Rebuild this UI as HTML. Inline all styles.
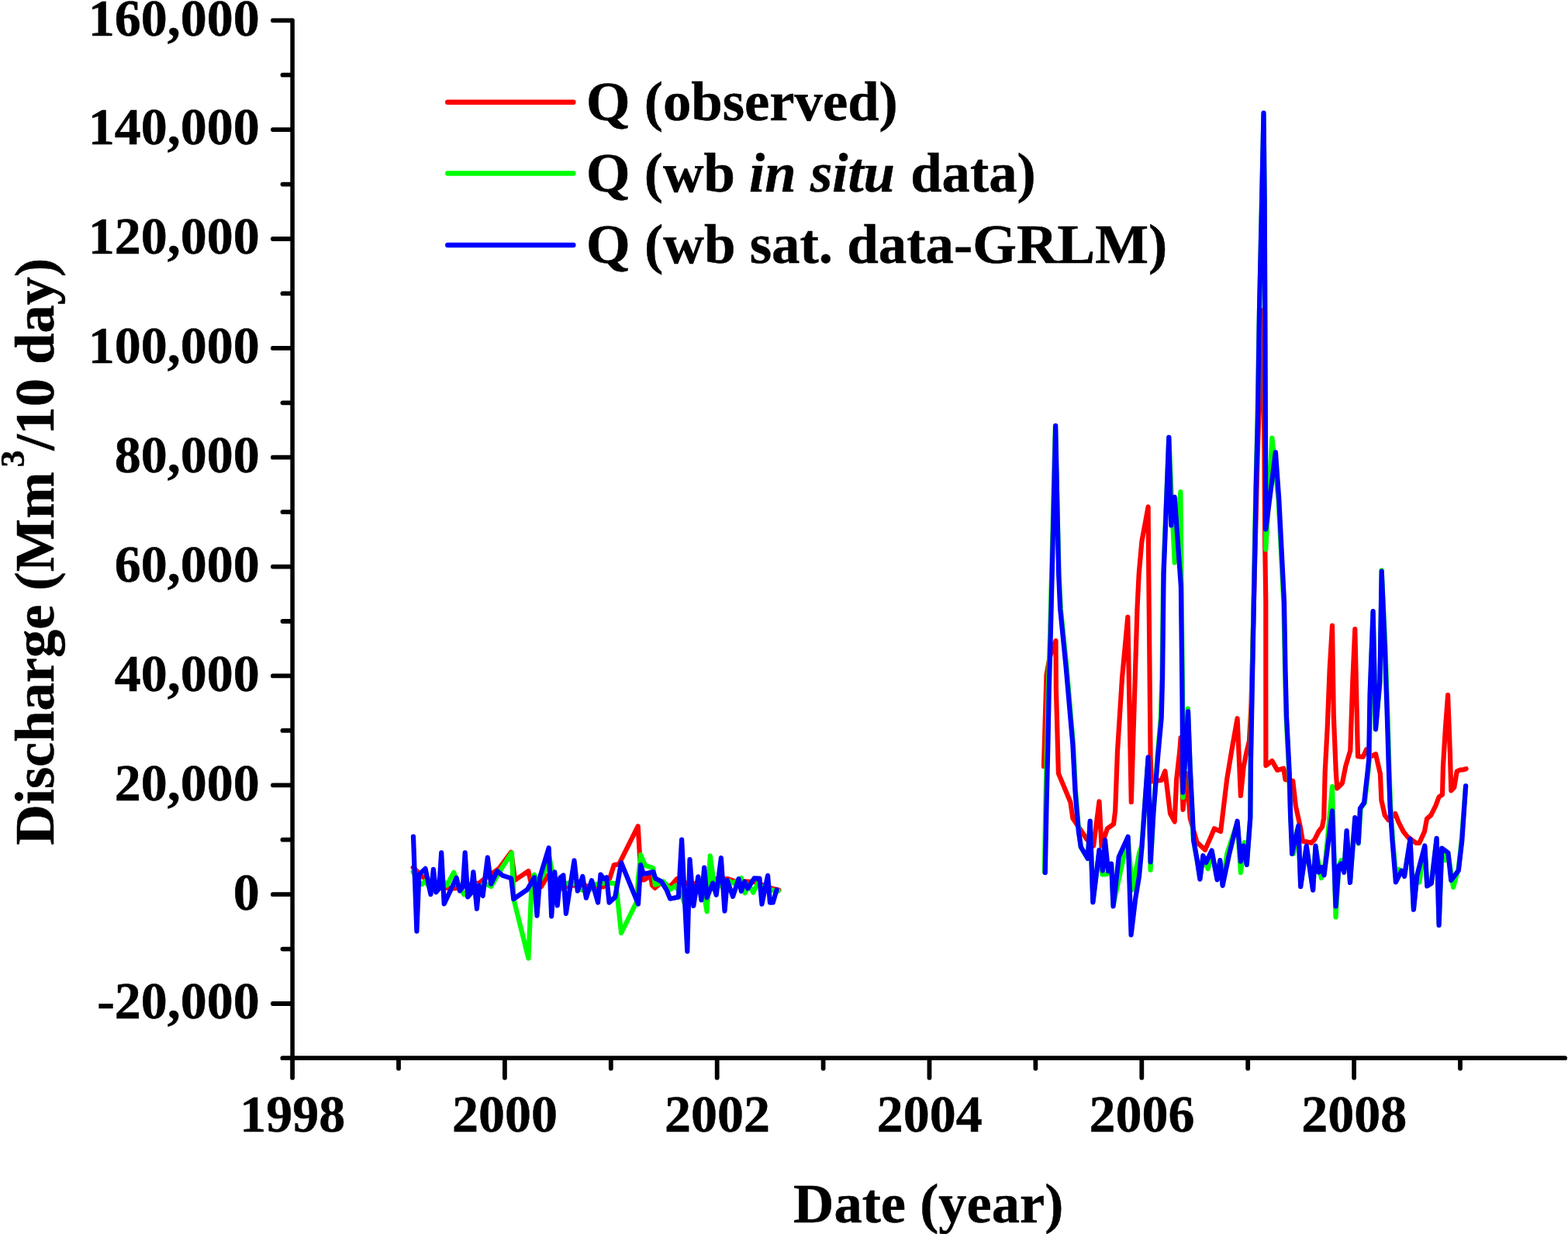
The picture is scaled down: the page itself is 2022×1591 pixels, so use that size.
<!DOCTYPE html>
<html lang="en"><head><meta charset="utf-8"><title>Discharge chart</title>
<style>html,body{margin:0;padding:0;background:#fff;}body{width:2022px;height:1591px;overflow:hidden;}svg{display:block;}</style>
</head><body>
<svg width="2022" height="1591" viewBox="0 0 2022 1591">
<rect x="0" y="0" width="2022" height="1591" fill="#ffffff"/>
<polyline points="532.7,1118.5 544.3,1129.6 555.4,1138.6 576.2,1144.9 587.2,1145.5 596.9,1141.4 608.0,1140.0 617.7,1138.6 624.6,1133.1 638.5,1123.4 644.0,1119.2 659.2,1098.7 664.1,1134.7 681.4,1123.0 684.2,1135.9 698.0,1143.1 706.3,1128.9 716.0,1135.9 724.3,1145.5 735.4,1141.4 749.3,1142.1 763.0,1142.5 778.0,1143.5 786.3,1132.4 791.8,1115.1 798.1,1114.4 822.7,1065.2 825.1,1105.4 827.9,1134.5 830.6,1134.5 838.9,1128.9 841.0,1141.4 844.5,1144.9 851.4,1138.6 864.5,1142.8 872.9,1133.1 884.6,1138.6 895.7,1139.3 922.0,1133.1 938.6,1133.1 946.9,1135.9 973.3,1137.2 995.4,1145.5 1004.4,1147.6" fill="none" stroke="#ff0000" stroke-width="6.2" stroke-linejoin="round" stroke-linecap="round"/>
<polyline points="1346.0,988.2 1349.5,870.0 1353.5,848.0 1357.5,836.0 1361.5,826.1 1361.9,888.4 1364.9,997.1 1380.4,1034.2 1383.4,1055.0 1395.3,1072.8 1401.2,1081.7 1410.1,1090.6 1417.5,1033.4 1420.5,1090.6 1427.9,1068.3 1436.1,1062.4 1438.2,1045.0 1441.0,968.7 1447.0,874.3 1454.3,795.6 1458.8,1034.2 1466.5,784.5 1468.7,740.0 1472.4,698.0 1480.6,653.5 1481.3,740.0 1483.6,976.1 1485.0,1007.5 1497.7,1006.0 1502.4,994.1 1509.1,1049.0 1514.7,1059.4 1517.2,1004.5 1521.4,967.4 1522.6,951.1 1525.5,1043.8 1530.3,997.1 1534.7,1055.0 1543.6,1086.1 1554.0,1095.8 1561.5,1078.7 1565.9,1068.3 1574.1,1072.0 1582.2,1004.5 1589.6,960.0 1595.6,926.2 1599.9,1026.0 1603.7,988.5 1607.6,969.0 1611.0,955.0 1613.5,910.0 1617.0,770.0 1621.6,590.0 1628.0,400.0 1629.3,480.0 1630.2,560.0 1631.2,700.0 1632.3,776.0 1632.3,863.9 1632.4,987.0 1640.4,981.1 1647.1,992.9 1655.3,990.7 1657.5,1005.2 1667.2,1006.7 1670.9,1039.3 1676.8,1066.1 1679.8,1084.6 1685.0,1085.3 1690.9,1086.8 1695.3,1082.4 1700.5,1072.0 1705.0,1066.1 1707.2,1054.2 1708.7,994.8 1711.7,938.0 1714.6,863.9 1718.0,806.7 1719.8,923.2 1722.8,996.1 1724.3,1016.4 1730.9,1009.7 1735.4,987.4 1741.3,967.7 1744.3,878.7 1747.3,811.2 1751.0,975.1 1757.7,975.9 1762.1,966.2 1768.0,975.1 1774.0,972.2 1779.9,997.8 1781.4,1031.9 1785.8,1051.2 1790.3,1057.2 1799.2,1049.0 1803.6,1060.1 1809.6,1072.0 1815.5,1079.4 1825.9,1086.8 1830.4,1086.8 1837.0,1072.0 1840.0,1055.7 1845.2,1051.2 1851.1,1039.3 1855.6,1027.5 1860.0,1024.5 1860.9,988.7 1863.9,939.2 1867.1,896.2 1869.8,968.9 1871.3,1019.4 1875.2,1015.4 1878.7,994.6 1882.7,992.7 1886.6,992.5 1890.6,991.2" fill="none" stroke="#ff0000" stroke-width="6.2" stroke-linejoin="round" stroke-linecap="round"/>
<polyline points="532.7,1124.1 540.2,1138.6 544.3,1140.0 548.5,1135.9 555.4,1146.9 562.3,1146.9 569.2,1133.1 576.2,1141.4 585.2,1124.8 590.0,1138.6 598.3,1153.2 605.2,1146.9 610.8,1138.6 619.1,1145.5 624.6,1138.6 633.2,1143.1 645.4,1122.0 659.9,1099.4 662.6,1160.1 681.4,1235.6 685.6,1138.6 689.0,1127.8 693.9,1138.6 700.8,1127.5 708.4,1105.4 713.9,1133.1 724.3,1140.0 732.6,1138.6 740.9,1138.6 749.3,1146.9 756.2,1149.7 763.0,1145.5 768.3,1140.0 778.0,1138.6 789.1,1138.6 794.3,1139.3 801.1,1203.0 820.9,1162.9 823.0,1133.1 826.2,1102.2 832.0,1115.8 842.4,1119.2 844.7,1140.7 850.0,1139.3 855.5,1136.5 864.5,1146.9 870.8,1142.1 878.4,1152.5 886.3,1174.6 890.2,1146.9 898.5,1146.9 906.8,1146.9 911.6,1175.3 915.8,1103.3 920.6,1138.6 926.2,1138.6 934.5,1146.9 940.0,1135.9 945.6,1138.6 955.9,1132.0 960.7,1151.4 965.5,1140.7 971.3,1150.7 977.4,1138.6 987.1,1146.9 995.4,1147.6 1003.7,1148.6" fill="none" stroke="#00ff00" stroke-width="6.2" stroke-linejoin="round" stroke-linecap="round"/>
<polyline points="1346.9,1123.9 1348.4,1034.2 1350.2,960.0 1351.8,888.4 1354.2,814.2 1356.1,740.0 1360.9,549.7 1365.6,740.0 1367.8,784.5 1375.3,858.7 1384.0,960.0 1387.0,1019.3 1391.1,1071.3 1393.8,1092.0 1402.7,1106.9 1405.7,1060.9 1409.4,1161.8 1417.5,1098.0 1421.4,1127.4 1427.3,1127.1 1429.7,1123.2 1433.1,1113.6 1435.6,1167.0 1445.0,1123.2 1454.6,1080.5 1460.1,1147.5 1469.0,1100.0 1472.4,1090.6 1480.6,979.3 1483.6,1121.7 1487.3,1049.0 1492.6,974.8 1496.9,925.5 1498.5,873.5 1500.2,740.0 1507.3,564.5 1514.7,725.5 1522.4,634.2 1523.5,756.1 1525.0,888.4 1525.5,1028.2 1531.8,913.6 1534.7,989.7 1537.4,1049.0 1538.9,1083.1 1543.6,1108.4 1547.4,1132.1 1551.4,1104.7 1557.7,1120.2 1562.6,1098.0 1569.6,1132.8 1573.3,1109.9 1576.6,1140.3 1582.2,1100.9 1595.6,1060.1 1599.9,1125.1 1604.8,1086.1 1607.8,1113.5 1612.3,1054.2 1612.7,980.0 1614.9,863.9 1616.9,760.0 1619.4,629.0 1621.6,540.0 1624.0,400.0 1627.1,260.0 1629.5,147.0 1630.7,260.0 1631.9,557.0 1632.3,708.4 1640.4,564.5 1648.6,643.9 1651.6,703.2 1655.3,776.1 1657.1,863.9 1658.5,923.2 1662.3,996.1 1664.2,1054.2 1667.9,1100.9 1674.3,1066.1 1677.2,1141.7 1684.7,1092.0 1693.1,1146.2 1696.5,1092.0 1703.9,1132.1 1708.7,1113.5 1711.7,1083.9 1718.0,1014.1 1722.5,1182.5 1726.5,1116.5 1729.5,1109.1 1733.2,1123.2 1736.6,1072.7 1741.0,1136.5 1747.3,1055.7 1751.7,1087.6 1754.7,1042.3 1759.9,1034.9 1764.3,994.8 1765.7,980.0 1767.0,893.5 1770.6,789.7 1774.0,938.8 1779.6,879.0 1781.7,735.3 1786.4,834.2 1789.4,923.2 1791.6,996.1 1793.1,1039.3 1796.1,1083.9 1800.7,1135.8 1803.6,1120.9 1811.1,1128.4 1818.5,1083.9 1822.9,1171.4 1827.1,1128.4 1830.4,1137.6 1834.1,1110.6 1837.3,1092.0 1840.3,1141.0 1845.9,1137.3 1852.6,1082.4 1855.6,1190.7 1859.3,1095.0 1863.7,1109.1 1867.4,1100.9 1874.1,1143.9 1880.8,1119.5 1884.7,1083.9 1890.1,1013.6" fill="none" stroke="#00ff00" stroke-width="6.2" stroke-linejoin="round" stroke-linecap="round"/>
<polyline points="533.0,1078.7 537.4,1200.7 540.4,1127.5 548.5,1119.9 555.4,1153.2 558.9,1120.9 562.3,1150.4 566.2,1145.5 569.2,1099.4 572.7,1165.4 588.6,1131.7 592.8,1148.6 596.9,1143.5 599.7,1099.4 603.2,1156.4 607.3,1151.8 610.4,1124.4 614.9,1171.6 617.7,1141.7 622.6,1155.0 628.8,1105.7 633.2,1139.7 641.2,1123.0 648.2,1128.9 659.2,1132.4 662.3,1159.1 680.0,1146.9 689.0,1131.3 692.5,1180.6 696.4,1130.3 707.7,1093.2 711.2,1181.3 715.3,1124.4 718.8,1167.4 722.3,1131.7 726.4,1128.5 729.9,1177.8 740.5,1109.5 744.8,1148.7 751.3,1129.9 755.9,1157.7 763.0,1135.2 771.1,1163.6 774.5,1127.5 778.7,1133.1 782.2,1131.3 785.6,1163.6 793.2,1156.6 801.1,1112.3 823.0,1165.6 826.2,1115.1 829.9,1126.9 842.4,1124.1 845.2,1132.4 852.8,1136.5 859.7,1147.6 864.1,1158.7 874.9,1156.6 879.1,1082.5 886.3,1226.6 889.5,1108.2 894.3,1168.0 900.3,1130.3 904.4,1160.5 908.2,1118.5 911.6,1157.3 919.2,1138.6 923.7,1153.9 929.9,1106.1 934.5,1174.6 937.9,1135.2 945.1,1155.9 952.5,1133.1 955.9,1149.0 960.1,1136.8 964.3,1145.5 972.6,1132.4 979.5,1132.7 982.5,1165.6 990.1,1128.9 992.9,1163.6 996.8,1163.6 1001.6,1147.2" fill="none" stroke="#0000ff" stroke-width="6.2" stroke-linejoin="round" stroke-linecap="round"/>
<polyline points="1347.8,1125.1 1349.6,1034.2 1351.4,960.0 1352.8,888.4 1354.9,814.2 1356.7,740.0 1361.2,548.9 1365.2,740.0 1367.1,784.5 1374.5,858.7 1383.4,960.0 1386.4,1019.3 1390.8,1071.3 1393.8,1092.0 1402.7,1106.9 1405.7,1058.7 1409.4,1163.3 1417.5,1095.8 1422.0,1122.5 1425.0,1083.1 1429.1,1123.2 1433.1,1113.6 1435.6,1168.5 1442.8,1104.7 1454.6,1078.7 1458.6,1205.3 1464.1,1159.3 1469.0,1129.7 1472.4,1093.5 1480.6,976.3 1483.6,1111.3 1487.3,1049.0 1493.2,974.8 1497.7,925.5 1499.1,873.5 1500.6,740.0 1507.3,563.8 1510.3,677.3 1514.7,640.9 1522.9,756.1 1524.4,888.4 1525.5,1021.6 1532.1,917.3 1534.7,989.7 1537.7,1049.0 1539.2,1083.1 1543.6,1108.4 1547.4,1133.6 1551.4,1103.2 1555.2,1112.1 1562.6,1096.5 1569.6,1134.3 1573.3,1109.1 1576.6,1141.8 1585.2,1100.9 1595.6,1058.7 1599.9,1110.6 1603.6,1090.5 1607.8,1115.0 1612.3,1054.2 1613.0,980.0 1615.2,863.9 1617.2,760.0 1619.7,629.0 1621.9,540.0 1624.0,400.0 1627.1,260.0 1629.5,145.5 1630.7,260.0 1631.9,557.0 1632.3,682.4 1644.9,583.0 1649.3,643.9 1652.3,703.2 1656.0,776.1 1657.5,863.9 1659.0,923.2 1662.7,996.1 1664.2,1054.2 1666.1,1100.9 1674.3,1064.6 1677.2,1143.2 1684.7,1090.5 1693.1,1147.7 1696.5,1090.5 1700.5,1124.7 1704.2,1118.0 1707.5,1128.4 1718.0,1045.3 1722.5,1168.4 1726.5,1116.5 1729.5,1113.5 1733.2,1124.7 1736.6,1071.2 1741.0,1138.0 1747.3,1054.2 1751.7,1086.8 1753.9,1042.3 1759.1,1034.9 1763.6,994.8 1765.1,980.0 1766.6,893.5 1770.6,788.2 1774.0,940.3 1779.3,879.0 1781.7,736.6 1785.8,834.2 1788.8,923.2 1791.0,996.1 1792.5,1039.3 1795.5,1083.9 1799.9,1137.3 1807.4,1122.4 1811.1,1129.9 1818.5,1081.6 1822.9,1172.9 1827.4,1128.4 1837.3,1090.5 1840.3,1142.5 1845.9,1138.8 1852.6,1080.9 1855.6,1192.9 1859.3,1093.5 1867.4,1099.4 1871.2,1135.0 1880.8,1122.4 1885.3,1083.9 1890.1,1013.4" fill="none" stroke="#0000ff" stroke-width="6.2" stroke-linejoin="round" stroke-linecap="round"/>
<g stroke="#000000" stroke-width="5.8" stroke-linecap="round" fill="none">
<line x1="351.9" y1="1294.0" x2="376.1" y2="1294.0"/>
<line x1="364.5" y1="1223.6" x2="376.1" y2="1223.6"/>
<line x1="351.9" y1="1153.2" x2="376.1" y2="1153.2"/>
<line x1="364.5" y1="1082.7" x2="376.1" y2="1082.7"/>
<line x1="351.9" y1="1012.3" x2="376.1" y2="1012.3"/>
<line x1="364.5" y1="941.9" x2="376.1" y2="941.9"/>
<line x1="351.9" y1="871.4" x2="376.1" y2="871.4"/>
<line x1="364.5" y1="801.0" x2="376.1" y2="801.0"/>
<line x1="351.9" y1="730.6" x2="376.1" y2="730.6"/>
<line x1="364.5" y1="660.1" x2="376.1" y2="660.1"/>
<line x1="351.9" y1="589.7" x2="376.1" y2="589.7"/>
<line x1="364.5" y1="519.3" x2="376.1" y2="519.3"/>
<line x1="351.9" y1="448.9" x2="376.1" y2="448.9"/>
<line x1="364.5" y1="378.4" x2="376.1" y2="378.4"/>
<line x1="351.9" y1="308.0" x2="376.1" y2="308.0"/>
<line x1="364.5" y1="237.6" x2="376.1" y2="237.6"/>
<line x1="351.9" y1="167.1" x2="376.1" y2="167.1"/>
<line x1="364.5" y1="96.7" x2="376.1" y2="96.7"/>
<line x1="351.9" y1="26.3" x2="376.1" y2="26.3"/>
<line x1="377.1" y1="1365.2" x2="377.1" y2="1389.6"/>
<line x1="514.0" y1="1365.2" x2="514.0" y2="1377.6"/>
<line x1="650.9" y1="1365.2" x2="650.9" y2="1389.6"/>
<line x1="787.8" y1="1365.2" x2="787.8" y2="1377.6"/>
<line x1="924.7" y1="1365.2" x2="924.7" y2="1389.6"/>
<line x1="1061.6" y1="1365.2" x2="1061.6" y2="1377.6"/>
<line x1="1198.5" y1="1365.2" x2="1198.5" y2="1389.6"/>
<line x1="1335.4" y1="1365.2" x2="1335.4" y2="1377.6"/>
<line x1="1472.3" y1="1365.2" x2="1472.3" y2="1389.6"/>
<line x1="1609.2" y1="1365.2" x2="1609.2" y2="1377.6"/>
<line x1="1746.1" y1="1365.2" x2="1746.1" y2="1389.6"/>
<line x1="1883.0" y1="1365.2" x2="1883.0" y2="1377.6"/>
<line x1="364.4" y1="1364.2" x2="2018.1" y2="1364.2"/>
<line x1="377.1" y1="26.3" x2="377.1" y2="1364.2" stroke-width="5.5"/>
</g>
<g font-family="'Liberation Serif', 'Times New Roman', serif" font-weight="bold" fill="#000000" stroke="#000000" stroke-width="0.5" stroke-linejoin="round">
<g font-size="68" text-anchor="end">
<text x="334.8" y="1313.3">-20,000</text>
<text x="334.8" y="1172.5">0</text>
<text x="334.8" y="1031.6">20,000</text>
<text x="334.8" y="890.7">40,000</text>
<text x="334.8" y="749.9">60,000</text>
<text x="334.8" y="609.0">80,000</text>
<text x="334.8" y="468.2">100,000</text>
<text x="334.8" y="327.3">120,000</text>
<text x="334.8" y="186.4">140,000</text>
<text x="334.8" y="45.6">160,000</text>
</g>
<g font-size="68" text-anchor="middle">
<text x="377.3" y="1458.7">1998</text>
<text x="651.1" y="1458.7">2000</text>
<text x="924.9" y="1458.7">2002</text>
<text x="1198.7" y="1458.7">2004</text>
<text x="1472.5" y="1458.7">2006</text>
<text x="1746.3" y="1458.7">2008</text>
</g>
<text x="1197.2" y="1576.2" font-size="72.5" text-anchor="middle">Date (year)</text>
<text transform="translate(69.1 1089.6) rotate(-90)" font-size="72.5"><tspan x="0" y="0">Discharge (Mm</tspan><tspan x="487.1" y="-37.7" font-size="44">3</tspan><tspan x="509" y="0">/10 day)</tspan></text>
<line x1="577.3" y1="131.8" x2="739.3" y2="131.8" stroke="#ff0000" stroke-width="6.5" stroke-linecap="round"/>
<line x1="577.3" y1="223.5" x2="739.3" y2="223.5" stroke="#00ff00" stroke-width="6.5" stroke-linecap="round"/>
<line x1="577.3" y1="316.0" x2="739.3" y2="316.0" stroke="#0000ff" stroke-width="6.5" stroke-linecap="round"/>
<text x="756.1" y="154.9" font-size="72.7">Q (observed)</text>
<text x="756.1" y="246.7" font-size="72.7">Q (wb <tspan font-style="italic">in situ</tspan><tspan dx="2"> data)</tspan></text>
<text x="756.1" y="339.1" font-size="72.9">Q (wb sat. data-GRLM)</text>
</g>
</svg>
</body></html>
